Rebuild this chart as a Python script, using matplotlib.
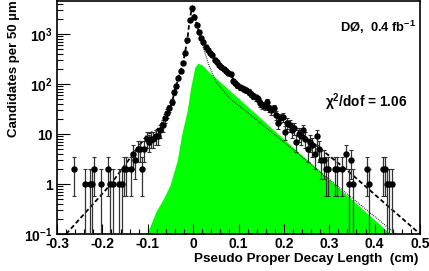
import numpy as np
import matplotlib
matplotlib.use('Agg')
from matplotlib import pyplot as plt
from matplotlib.ticker import MultipleLocator, LogLocator, NullFormatter

plt.rcParams['font.family'] = ['Liberation Sans', 'DejaVu Sans']
plt.rcParams['font.weight'] = 'bold'
plt.rcParams['mathtext.fontset'] = 'custom'
plt.rcParams['mathtext.rm'] = 'Liberation Sans:bold'
plt.rcParams['mathtext.bf'] = 'Liberation Sans:bold'
plt.rcParams['mathtext.default'] = 'bf'

#data points (bin centres in cm, candidates per bin)
data_x = [-0.2625, -0.2375, -0.2275, -0.2225, -0.2175, -0.2025, -0.1875, -0.1825,
          -0.1775, -0.1625, -0.1575, -0.1525, -0.1475, -0.1375, -0.1325, -0.1275,
          -0.1225, -0.1175, -0.1125, -0.1075, -0.1025,
          -0.0975, -0.0925, -0.0875, -0.0825, -0.0775, -0.0725, -0.0675, -0.0625,
          -0.0575, -0.0525, -0.0475, -0.0425, -0.0375, -0.0325, -0.0275, -0.0225,
          -0.0175, -0.0125, -0.0075, -0.0025,
          0.0025, 0.0075, 0.0125, 0.0175, 0.0225, 0.0275, 0.0325, 0.0375, 0.0425,
          0.0475, 0.0525, 0.0575, 0.0625, 0.0675, 0.0725, 0.0775, 0.0825, 0.0875,
          0.0925, 0.0975, 0.1025, 0.1075, 0.1125, 0.1175, 0.1225, 0.1275, 0.1325,
          0.1375, 0.1425, 0.1475, 0.1525, 0.1575, 0.1625, 0.1675, 0.1725, 0.1775,
          0.1825, 0.1875, 0.1925, 0.1975, 0.2025, 0.2075, 0.2125, 0.2175, 0.2225,
          0.2275, 0.2325, 0.2375, 0.2425, 0.2475, 0.2525, 0.2575, 0.2625, 0.2675,
          0.2725, 0.2775, 0.2825, 0.2875, 0.2925, 0.2975, 0.3125, 0.3175, 0.3275,
          0.3375, 0.3425, 0.3475, 0.3525, 0.3825, 0.3875, 0.4175, 0.4225, 0.4275,
          0.4325, 0.4375]
data_n = [2, 1, 1, 1, 2, 1, 2, 1,
          1, 1, 1, 2, 2, 2, 4, 3,
          5, 5, 2, 5, 8,
          7, 8, 8, 9, 9, 12, 15, 21,
          26, 33, 44, 68, 92, 130, 180, 265,
          420, 760, 1900, 3400,
          2200, 1500, 1100, 850, 690, 560, 480, 420, 380,
          310, 275, 240, 220, 200, 185, 170, 160, 115,
          105, 95, 87, 84, 80, 76, 70, 62, 58,
          54, 50, 42, 38, 36, 44, 33, 30, 33,
          24, 17, 21, 22, 11, 17, 15, 12, 13,
          7, 10, 9, 12, 8, 5, 7, 6, 4,
          9, 5, 3, 3, 2, 2, 2, 2, 2,
          4, 1, 3, 1, 2, 1, 2, 2, 1,
          1, 1]

#total fit (dashed)
fit_x = [-0.28, -0.183, -0.1, -0.08, -0.06, -0.047, -0.04, -0.03, -0.022, -0.013,
         -0.008, -0.003, 0.002, 0.005, 0.013, 0.022, 0.033, 0.042, 0.053, 0.063,
         0.08, 0.1, 0.13, 0.15, 0.2, 0.25, 0.339, 0.4, 0.5]
fit_y = [0.1, 0.95, 10, 12, 22, 42, 75, 160, 270, 750,
         1800, 3300, 2600, 2000, 1100, 700, 470, 380, 280, 220,
         160, 95, 60, 42, 20, 8.5, 1.9, 0.62, 0.1]

#component (dotted)
comp_x = [0.002, 0.015, 0.033, 0.05, 0.081, 0.2, 0.447]
comp_y = [2500, 900, 263, 112, 52, 6.9, 0.1]

#B signal (green)
sig_x = [-0.102, -0.082, -0.065, -0.051, -0.035, -0.025, -0.013, -0.005, 0.004,
         0.011, 0.02, 0.035, 0.2, 0.435]
sig_y = [0.1, 0.28, 0.52, 0.95, 3.0, 10, 30, 90, 220,
         263, 240, 175, 7.9, 0.1]

fig = plt.figure(figsize=(4.29, 2.71), dpi=100)
ax = fig.add_axes([0.1329, 0.1365, 0.8461, 0.8598])

ax.fill_between(sig_x, 0.1, sig_y, color='#00ff00', linewidth=0, zorder=1)
ax.plot(comp_x, comp_y, color='black', linestyle=(0, (0.6, 1.0)), linewidth=0.9, zorder=2)
ax.plot(fit_x, fit_y, color='black', linestyle=(0, (2.5, 1.5)), linewidth=1.3, zorder=3)

n = np.array(data_n, dtype=float)
err = np.sqrt(n)
lower = np.minimum(err, n - 1e-3)
ax.errorbar(data_x, n, yerr=[lower, err], fmt='o', color='black', markersize=3.6,
            ecolor='#333333', elinewidth=0.9, capsize=1.2, capthick=0.8, zorder=4)

ax.set_yscale('log')
ax.set_xlim(-0.3, 0.5)
ax.set_ylim(0.1, 4600)

ax.set_xticks([-0.3, -0.2, -0.1, 0, 0.1, 0.2, 0.3, 0.4, 0.5])
ax.set_xticklabels(['-0.3', '-0.2', '-0.1', '0', '0.1', '0.2', '0.3', '0.4', '0.5'])
ax.xaxis.set_minor_locator(MultipleLocator(0.02))
ax.set_yticks([0.1, 1, 10, 100, 1000])
ax.set_yticklabels(['10$^{-1}$', '1', '10', '10$^{2}$', '10$^{3}$'])
ax.yaxis.set_minor_locator(LogLocator(base=10, subs=np.arange(2, 10)))
ax.yaxis.set_minor_formatter(NullFormatter())

ax.tick_params(which='both', direction='in', labelsize=10, width=0.8)
ax.tick_params(axis='y', which='major', length=9, pad=3)
ax.tick_params(axis='y', which='minor', length=4.5)
ax.tick_params(axis='x', which='major', length=7, pad=2)
ax.tick_params(axis='x', which='minor', length=3.5)
for lab in ax.get_xticklabels() + ax.get_yticklabels():
    lab.set_fontweight('bold')
for sp in ax.spines.values():
    sp.set_linewidth(1.2)

fig.text(0.976, 0.022, 'Pseudo Proper Decay Length  (cm)', ha='right', va='bottom',
         fontsize=9.7, fontweight='bold')
fig.text(0.018, 0.998, 'Candidates per 50 µm', ha='left', va='top', rotation=90,
         fontsize=9.5, fontweight='bold')

ax.text(0.99, 0.885, 'DØ,  0.4 fb$^{-1}$', transform=ax.transAxes, ha='right',
        va='center', fontsize=9.3, fontweight='bold')
ax.text(0.965, 0.565, 'χ$^{2}$/dof = 1.06', transform=ax.transAxes, ha='right',
        va='center', fontsize=9.8, fontweight='bold')

fig.savefig('out.png', dpi=100)
